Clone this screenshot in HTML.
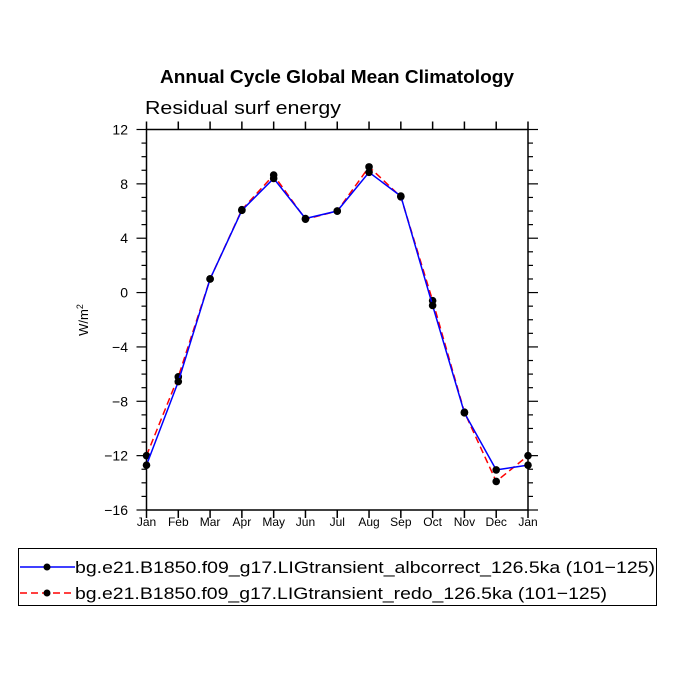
<!DOCTYPE html>
<html><head><meta charset="utf-8"><style>
body{margin:0;background:#fff;}
svg{display:block;font-family:"Liberation Sans",sans-serif;}
</style></head><body>
<svg id="chart" width="675" height="675" viewBox="0 0 675 675">
<text x="160" y="83" font-size="18" font-weight="bold" textLength="354" lengthAdjust="spacingAndGlyphs">Annual Cycle Global Mean Climatology</text>
<text x="145" y="114" font-size="18" textLength="196" lengthAdjust="spacingAndGlyphs">Residual surf energy</text>
<text transform="translate(88,320) rotate(-90)" text-anchor="middle" font-size="13">W/m<tspan font-size="9" dy="-5">2</tspan></text>
<rect x="146.5" y="129.5" width="381.5" height="380.5" fill="none" stroke="#000" stroke-width="1.5"/>
<g id="axes"></g>
<g id="series"></g>
<g>
<rect x="18.5" y="548.5" width="638" height="57" fill="none" stroke="#000" stroke-width="1"/>
<g>
<line x1="20" y1="567" x2="75" y2="567" stroke="#0000ff" stroke-width="1.5"/>
<circle cx="47" cy="567" r="3.5"/>
<text x="75" y="573" font-size="17" textLength="580" lengthAdjust="spacingAndGlyphs">bg.e21.B1850.f09_g17.LIGtransient_albcorrect_126.5ka (101−125)</text>
</g>
<g>
<line x1="20" y1="593" x2="75" y2="593" stroke="#ff0000" stroke-width="1.5" stroke-dasharray="7,4"/>
<circle cx="47" cy="593" r="3.5"/>
<text x="75" y="599" font-size="17" textLength="532" lengthAdjust="spacingAndGlyphs">bg.e21.B1850.f09_g17.LIGtransient_redo_126.5ka (101−125)</text>
</g>
</g>
</svg>
<script>
const months=["Jan","Feb","Mar","Apr","May","Jun","Jul","Aug","Sep","Oct","Nov","Dec","Jan"];
const albcorrect=[-12.7,-6.55,1.0,6.05,8.4,5.45,6.0,8.85,7.1,-0.95,-8.85,-13.05,-12.7];
const redo=[-12.0,-6.2,1.0,6.1,8.65,5.4,6.0,9.25,7.05,-0.6,-8.8,-13.9,-12.0];
const yTicks=[-16,-12,-8,-4,0,4,8,12];
const NS="http://www.w3.org/2000/svg";
const L=146.5,R=528,T=129.5,B=510,ymin=-16,ymax=12;
const xs=i=>L+(R-L)*i/(months.length-1);
const ys=v=>B-(v-ymin)/(ymax-ymin)*(B-T);
function mk(tag,at,parent){const e=document.createElementNS(NS,tag);for(const k in at)e.setAttribute(k,at[k]);parent.appendChild(e);return e;}
const ax=document.getElementById('axes');
months.forEach((m,i)=>{
 const x=xs(i);
 const t1=mk('line',{x1:x,x2:x,y1:B,y2:B+8,stroke:'#000','stroke-width':1.5},ax);
 
 
 const t2=mk('line',{x1:x,x2:x,y1:T,y2:T-8,stroke:'#000','stroke-width':1.5},ax);
 
 
 const tx=mk('text',{x:x,y:B+16,'text-anchor':'middle','font-size':12},ax);
 tx.textContent=m;
 
 
});
for(let v=ymin;v<=ymax;v++){
 const y=ys(v),major=yTicks.includes(v),len=major?10:5;
 const a=mk('line',{x1:L,x2:L-len,y1:y,y2:y,stroke:'#000','stroke-width':1.2},ax);
 
 
 const b=mk('line',{x1:R,x2:R+len,y1:y,y2:y,stroke:'#000','stroke-width':1.2},ax);
 
 
}
yTicks.forEach(v=>{
 const tx=mk('text',{x:128,y:ys(v)+5,'text-anchor':'end','font-size':14},ax);
 tx.textContent=v<0?'−'+Math.abs(v):String(v);
 
 
});
const sg=document.getElementById('series');
function draw(vals,color,dash,name){
 const pts=vals.map((v,i)=>xs(i)+','+ys(v)).join(' ');
 const pl=mk('polyline',{points:pts,fill:'none',stroke:color,'stroke-width':1.5},sg);
 if(dash)pl.setAttribute('stroke-dasharray',dash);
 
 
 vals.forEach((v,i)=>{
  const c=mk('circle',{cx:xs(i),cy:ys(v),r:3.8,fill:'#000'},sg);
  
  
 });
}
draw(redo,'#ff0000','7,4','redo');
draw(albcorrect,'#0000ff',null,'albcorrect');
</script>
</body></html>
